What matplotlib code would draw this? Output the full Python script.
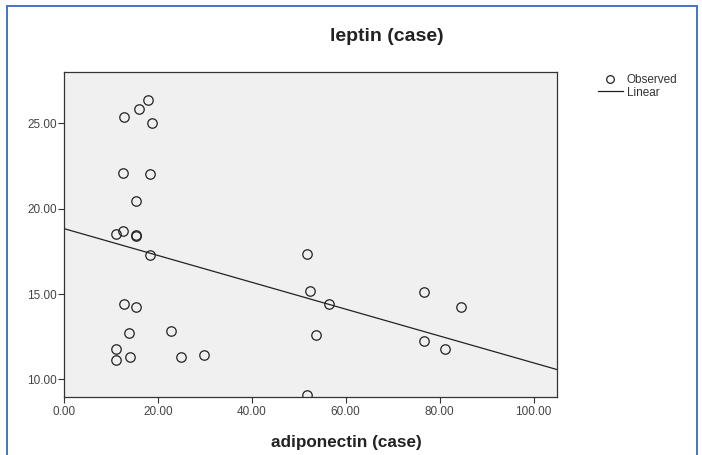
import numpy as np
import matplotlib
matplotlib.use('Agg')
import matplotlib.pyplot as plt
from matplotlib.lines import Line2D
from matplotlib.patches import Rectangle

plt.rcParams['font.family'] = ['Liberation Sans', 'DejaVu Sans']

# adiponectin (case) / leptin (case)
adiponectin = [17.9, 16.0, 12.8, 18.8, 12.6, 18.4, 15.3, 11.1, 12.5, 15.3, 15.4,
               18.4, 12.8, 15.3, 13.9, 22.8, 11.1, 11.1, 14.0, 25.0, 29.9,
               51.8, 52.4, 56.5, 53.7, 51.8, 76.7, 84.6, 76.7, 81.1]
leptin = [26.37, 25.84, 25.35, 25.02, 22.06, 22.02, 20.43, 18.50, 18.67, 18.46, 18.42,
          17.27, 14.39, 14.24, 12.72, 12.82, 11.80, 11.12, 11.31, 11.31, 11.41,
          17.35, 15.17, 14.39, 12.58, 9.08, 15.09, 14.24, 12.23, 11.78]

# linear fit as shown on the chart (intercept, slope)
fit_intercept = 18.83
fit_slope = -0.0786

x_ticks = [0, 20, 40, 60, 80, 100]
y_ticks = [10, 15, 20, 25]

fig = plt.figure(figsize=(7.02, 4.55), dpi=100)
ax = fig.add_axes([64 / 702, 1 - 396.5 / 455, 493 / 702, 324.5 / 455])
ax.set_facecolor('#f0f0f0')

ax.plot(adiponectin, leptin, linestyle='none', marker='o', markersize=6.8,
        markerfacecolor='none', markeredgecolor='#222222', markeredgewidth=0.9)

xs = np.array([0, 105])
ax.plot(xs, fit_intercept + fit_slope * xs, color='#222222', linewidth=0.9)

ax.set_xlim(0, 105)
ax.set_ylim(9, 28)
ax.set_xticks(x_ticks)
ax.set_xticklabels(['%.2f' % v for v in x_ticks])
ax.set_yticks(y_ticks)
ax.set_yticklabels(['%.2f' % v for v in y_ticks])
ax.tick_params(direction='out', length=4.5, width=0.8, color='#333333',
               labelsize=8.5, labelcolor='#444444')
ax.tick_params(axis='y', pad=0.5)
ax.tick_params(axis='x', pad=2.5)
for s in ax.spines.values():
    s.set_color('#333333')
    s.set_linewidth(0.9)

fig.text(387 / 702, 1 - 41 / 455, 'leptin (case)', fontsize=14, fontweight='bold',
         color='#222222', ha='center', va='baseline')
fig.text(346 / 702, 1 - 447 / 455, 'adiponectin (case)', fontsize=12.3, fontweight='bold',
         color='#222222', ha='center', va='baseline')

handles = [Line2D([], [], linestyle='none', marker='o', markersize=5.5,
                  markerfacecolor='none', markeredgecolor='#222222', markeredgewidth=0.9),
           Line2D([], [], color='#222222', linewidth=0.9)]
fig.legend(handles, ['Observed', 'Linear'], loc='upper left',
           bbox_to_anchor=(598 / 702, 1 - 74 / 455), frameon=False, fontsize=8.5,
           handlelength=2.1, handletextpad=0.35, labelspacing=0.05,
           borderpad=0, borderaxespad=0, labelcolor='#333333')

fig.patches.append(Rectangle((7 / 702, -0.05), 690 / 702, 1.05 - 6 / 455,
                             transform=fig.transFigure, fill=False,
                             edgecolor='#4a72c2', linewidth=1.4))

fig.savefig('out.png', dpi=100, facecolor='white')
